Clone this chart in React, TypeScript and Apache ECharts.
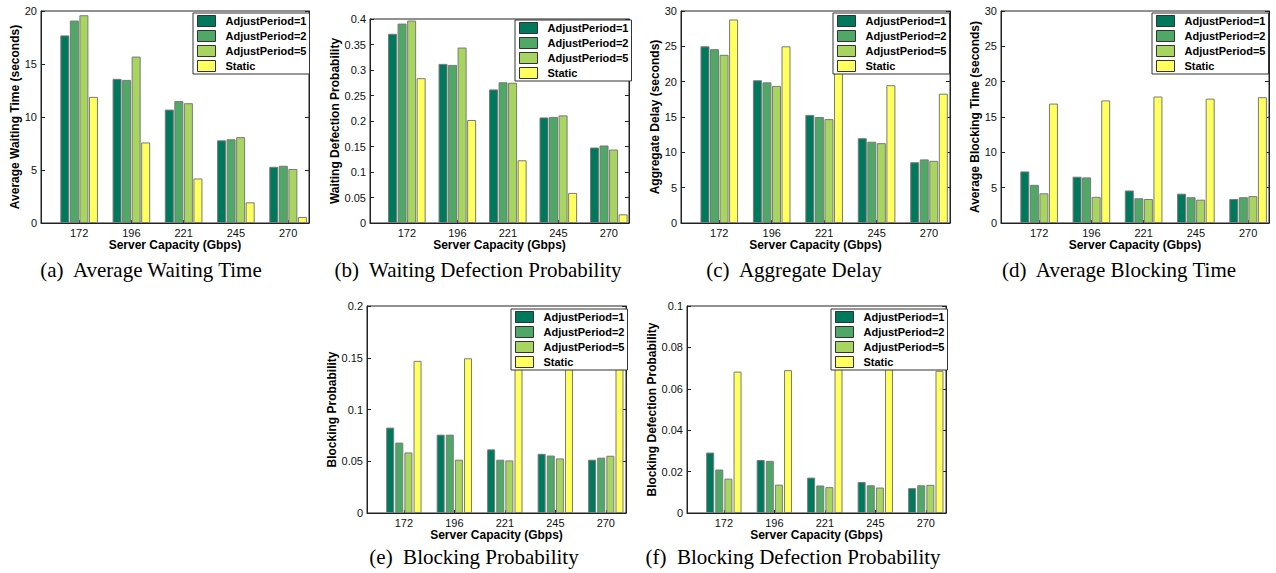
import React, { useEffect, useRef } from 'react';
import * as echarts from 'echarts';

const categories = ['172', '196', '221', '245', '270'];
const seriesNames = ['AdjustPeriod=1', 'AdjustPeriod=2', 'AdjustPeriod=5', 'Static'];
const seriesColors = ['#00785c', '#4fa866', '#a8d460', '#ffff5e'];
const xAxisName = 'Server Capacity (Gbps)';

// (a) Average Waiting Time
const waitTimeAP1 = [17.7, 13.6, 10.7, 7.8, 5.3];
const waitTimeAP2 = [19.1, 13.5, 11.5, 7.9, 5.4];
const waitTimeAP5 = [19.6, 15.7, 11.3, 8.1, 5.1];
const waitTimeStatic = [11.9, 7.6, 4.2, 1.95, 0.57];
// (b) Waiting Defection Probability
const waitDefectAP1 = [0.371, 0.312, 0.262, 0.207, 0.148];
const waitDefectAP2 = [0.391, 0.31, 0.276, 0.208, 0.152];
const waitDefectAP5 = [0.397, 0.344, 0.275, 0.211, 0.144];
const waitDefectStatic = [0.284, 0.202, 0.123, 0.059, 0.017];
// (c) Aggregate Delay
const aggDelayAP1 = [25.0, 20.2, 15.3, 12.0, 8.6];
const aggDelayAP2 = [24.6, 19.9, 15.0, 11.5, 9.0];
const aggDelayAP5 = [23.8, 19.4, 14.7, 11.3, 8.8];
const aggDelayStatic = [28.8, 25.0, 22.0, 19.5, 18.3];
// (d) Average Blocking Time
const blockTimeAP1 = [7.3, 6.55, 4.6, 4.15, 3.4];
const blockTimeAP2 = [5.4, 6.45, 3.5, 3.65, 3.65];
const blockTimeAP5 = [4.2, 3.7, 3.4, 3.3, 3.8];
const blockTimeStatic = [16.9, 17.35, 17.9, 17.6, 17.8];
// (e) Blocking Probability
const blockProbAP1 = [0.0825, 0.0757, 0.0615, 0.0572, 0.0515];
const blockProbAP2 = [0.068, 0.0757, 0.0515, 0.0555, 0.0535];
const blockProbAP5 = [0.0585, 0.0515, 0.0508, 0.0527, 0.0553];
const blockProbStatic = [0.147, 0.1495, 0.152, 0.151, 0.151];
// (f) Blocking Defection Probability
const blockDefectAP1 = [0.0292, 0.0256, 0.0171, 0.015, 0.012];
const blockDefectAP2 = [0.021, 0.0252, 0.0133, 0.0134, 0.0134];
const blockDefectAP5 = [0.0166, 0.0137, 0.0125, 0.0123, 0.0136];
const blockDefectStatic = [0.0683, 0.069, 0.0703, 0.0698, 0.0687];

const panels = [
  { yName: 'Average Waiting Time (seconds)', yMax: 20, yInterval: 5, caption: '(a)  Average Waiting Time',
    series: [waitTimeAP1, waitTimeAP2, waitTimeAP5, waitTimeStatic] },
  { yName: 'Waiting Defection Probability', yMax: 0.4, yInterval: 0.05, caption: '(b)  Waiting Defection Probability',
    series: [waitDefectAP1, waitDefectAP2, waitDefectAP5, waitDefectStatic] },
  { yName: 'Aggregate Delay (seconds)', yMax: 30, yInterval: 5, caption: '(c)  Aggregate Delay',
    series: [aggDelayAP1, aggDelayAP2, aggDelayAP5, aggDelayStatic] },
  { yName: 'Average Blocking Time (seconds)', yMax: 30, yInterval: 5, caption: '(d)  Average Blocking Time',
    series: [blockTimeAP1, blockTimeAP2, blockTimeAP5, blockTimeStatic] },
  { yName: 'Blocking Probability', yMax: 0.2, yInterval: 0.05, caption: '(e)  Blocking Probability',
    series: [blockProbAP1, blockProbAP2, blockProbAP5, blockProbStatic] },
  { yName: 'Blocking Defection Probability', yMax: 0.1, yInterval: 0.02, caption: '(f)  Blocking Defection Probability',
    series: [blockDefectAP1, blockDefectAP2, blockDefectAP5, blockDefectStatic] },
];

// layout (pixels)
const layouts = [
  { left: 41, top: 11, right: 309, bottom: 223, legendLeft: 193, legendTop: 13, nameGap: 18, capX: 151, capY: 270, barWidth: 9, barGap: '6%' },
  { left: 370, top: 19, right: 629, bottom: 223, legendLeft: 515, legendTop: 20, nameGap: 28, capX: 478, capY: 270, barWidth: 9, barGap: '6%' },
  { left: 681, top: 11, right: 950, bottom: 223, legendLeft: 833, legendTop: 13, nameGap: 17, capX: 794, capY: 270, barWidth: 9, barGap: '6%' },
  { left: 1001, top: 11, right: 1269, bottom: 223, legendLeft: 1152, legendTop: 13, nameGap: 17, capX: 1119, capY: 270, barWidth: 9, barGap: '6%' },
  { left: 367, top: 306, right: 626, bottom: 513, legendLeft: 511, legendTop: 309, nameGap: 28, capX: 474, capY: 557, barWidth: 8, barGap: '14%' },
  { left: 687, top: 306, right: 946, bottom: 513, legendLeft: 831, legendTop: 309, nameGap: 28, capX: 793, capY: 557, barWidth: 8, barGap: '14%' },
];

const X_MIN = 0.27;
const X_MAX = 5.4;
const SANS = '"Liberation Sans", Arial, Helvetica, sans-serif';
const SERIF = '"Liberation Serif", "Times New Roman", serif';

function buildOption() {
  const grid: any[] = [];
  const xAxis: any[] = [];
  const yAxis: any[] = [];
  const series: any[] = [];
  const legend: any[] = [];
  const graphic: any[] = [];

  panels.forEach((p, i) => {
    const L = layouts[i];
    grid.push({
      left: L.left, top: L.top, width: L.right - L.left, height: L.bottom - L.top,
      show: true, borderColor: '#222', borderWidth: 1, backgroundColor: '#fff',
    });
    xAxis.push({
      type: 'value', gridIndex: i, min: X_MIN, max: X_MAX,
      name: xAxisName, nameLocation: 'middle', nameGap: 14,
      nameTextStyle: { fontFamily: SANS, fontSize: 12, fontWeight: 'bold', color: '#000' },
      axisLine: { show: true, lineStyle: { color: '#222', width: 1 } },
      axisTick: { show: true, inside: true, length: 3, customValues: [1, 2, 3, 4, 5], lineStyle: { color: '#222' } },
      axisLabel: {
        show: true, margin: 4, fontFamily: SANS, fontSize: 11, color: '#111',
        customValues: [1, 2, 3, 4, 5],
        formatter: (v: number) => categories[Math.round(v) - 1] ?? '',
      },
      splitLine: { show: false },
    });
    yAxis.push({
      type: 'value', gridIndex: i, min: 0, max: p.yMax, interval: p.yInterval,
      name: p.yName, nameLocation: 'middle', nameGap: L.nameGap,
      nameTextStyle: { fontFamily: SANS, fontSize: 12, fontWeight: 'bold', color: '#000' },
      axisLine: { show: true, lineStyle: { color: '#222', width: 1 } },
      axisTick: { show: true, inside: true, length: 4, lineStyle: { color: '#222' } },
      axisLabel: { margin: 4, fontFamily: SANS, fontSize: 11, color: '#111' },
      splitLine: { show: false },
    });
    yAxis.push({
      type: 'value', gridIndex: i, min: 0, max: p.yMax, interval: p.yInterval, position: 'right',
      axisLine: { show: true, lineStyle: { color: '#222', width: 1 } },
      axisTick: { show: true, inside: true, length: 4, lineStyle: { color: '#222' } },
      axisLabel: { show: false },
      splitLine: { show: false },
    });
    p.series.forEach((vals, k) => {
      series.push({
        type: 'bar', name: seriesNames[k], xAxisIndex: i, yAxisIndex: 2 * i,
        barWidth: L.barWidth, barGap: L.barGap,
        itemStyle: { color: seriesColors[k], borderColor: '#7a7a7a', borderWidth: 1 },
        data: vals.map((v, j) => [j + 1, v]),
        silent: true,
      });
    });
    legend.push({
      show: true, left: L.legendLeft, top: L.legendTop, orient: 'vertical',
      data: seriesNames, icon: 'rect', itemWidth: 18, itemHeight: 11, itemGap: 3,
      padding: [2, 3, 2, 4], backgroundColor: '#fff', borderColor: '#333', borderWidth: 1,
      borderRadius: 0, selectedMode: false,
      textStyle: { fontFamily: SANS, fontSize: 11, fontWeight: 'bold', color: '#000', padding: [0, 0, 0, 5] },
      itemStyle: { borderColor: '#333', borderWidth: 1 },
    });
    graphic.push({
      type: 'text', x: L.capX, y: L.capY,
      style: { text: p.caption, fontFamily: SERIF, fontSize: 21, fill: '#000', align: 'center', verticalAlign: 'middle' },
    });
  });

  return { animation: false, backgroundColor: '#fff', grid, xAxis, yAxis, series, legend, graphic };
}

export default function App() {
  const ref = useRef<HTMLDivElement>(null);
  useEffect(() => {
    if (!ref.current) return;
    const chart = echarts.init(ref.current, null, { renderer: 'svg' });
    chart.setOption(buildOption() as any);
    return () => chart.dispose();
  }, []);
  return (
    <div
      ref={ref}
      style={{ position: 'fixed', left: 0, top: 0, width: 1276, height: 573, background: '#fff' }}
    />
  );
}
